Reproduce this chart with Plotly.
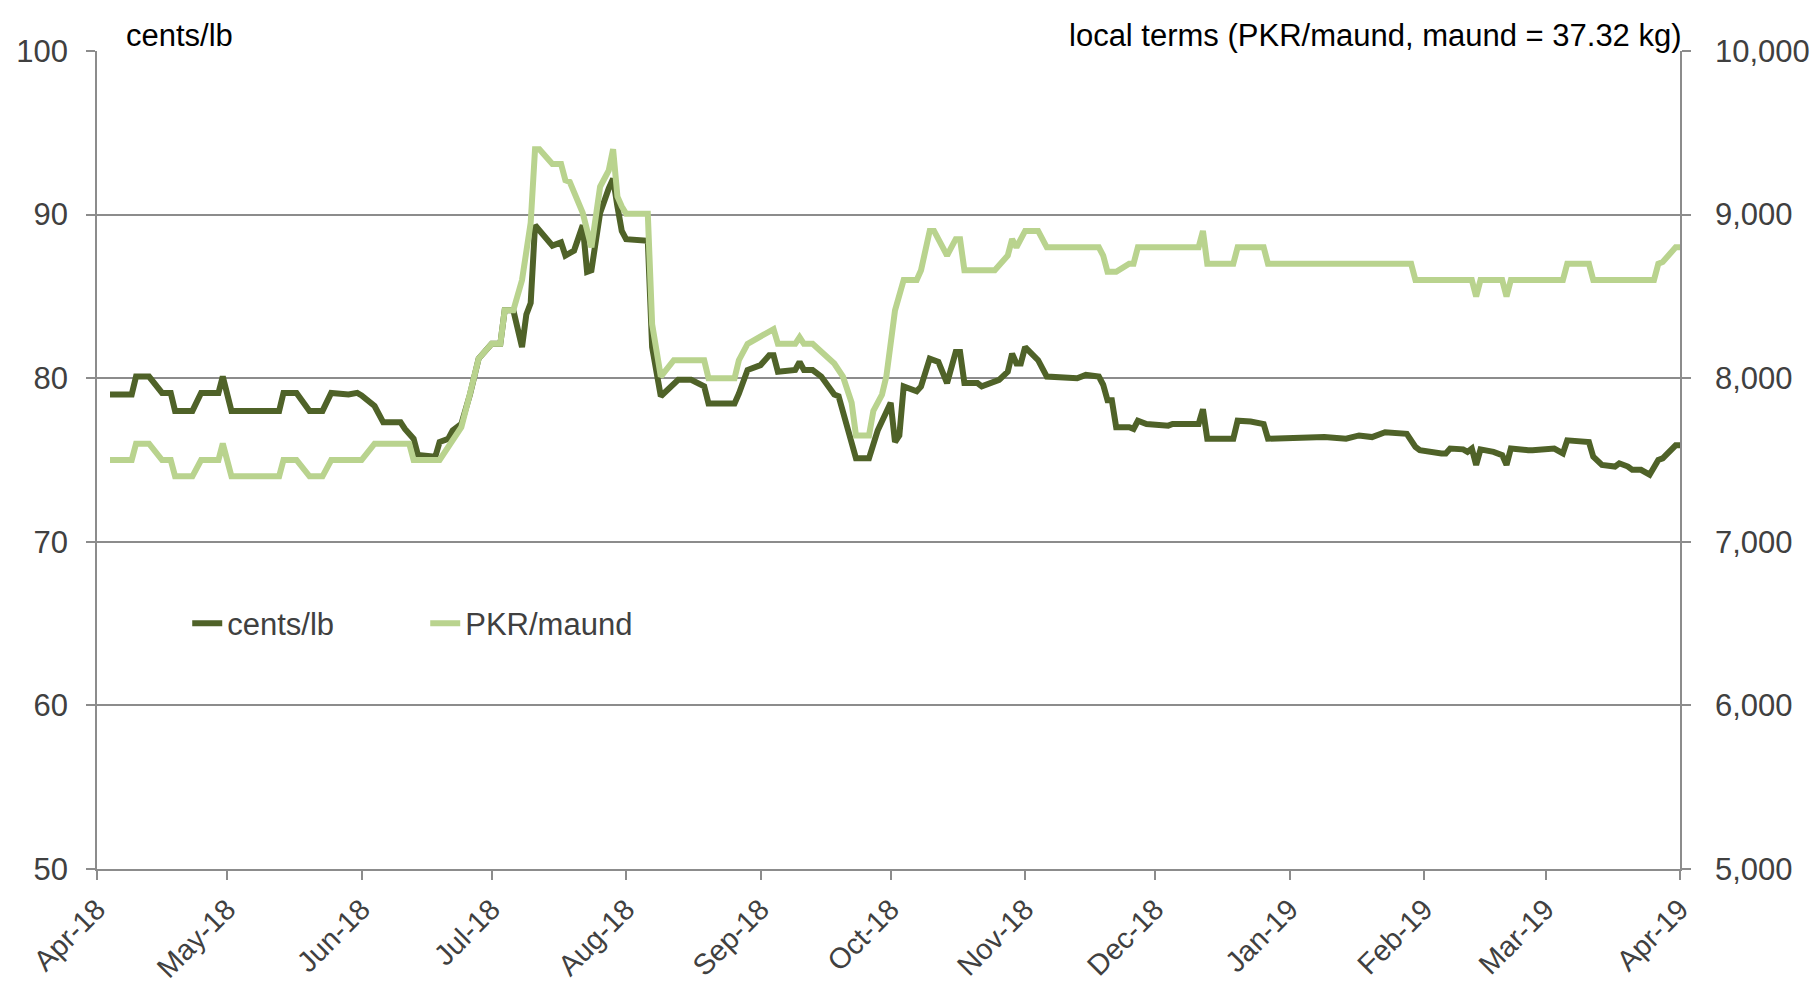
import plotly.graph_objects as go

# ---- data ----
cents_dates = [
    "2018-04-04", "2018-04-09", "2018-04-10", "2018-04-13", "2018-04-16", "2018-04-18", "2018-04-19",
    "2018-04-23", "2018-04-25", "2018-04-29", "2018-04-30", "2018-05-02", "2018-05-13", "2018-05-14",
    "2018-05-17", "2018-05-20", "2018-05-23", "2018-05-25", "2018-05-29", "2018-05-31", "2018-06-01",
    "2018-06-04", "2018-06-06", "2018-06-10", "2018-06-11", "2018-06-13", "2018-06-14", "2018-06-18",
    "2018-06-19", "2018-06-21", "2018-06-22", "2018-06-24", "2018-06-26", "2018-06-28", "2018-07-01",
    "2018-07-03", "2018-07-04", "2018-07-06", "2018-07-08", "2018-07-09", "2018-07-10", "2018-07-11",
    "2018-07-15", "2018-07-17", "2018-07-18", "2018-07-20", "2018-07-22", "2018-07-23", "2018-07-24",
    "2018-07-26", "2018-07-28", "2018-07-29", "2018-07-30", "2018-07-31", "2018-08-01", "2018-08-06",
    "2018-08-07", "2018-08-09", "2018-08-13", "2018-08-16", "2018-08-19", "2018-08-20", "2018-08-26",
    "2018-08-27", "2018-08-29", "2018-09-01", "2018-09-03", "2018-09-04", "2018-09-05", "2018-09-09",
    "2018-09-10", "2018-09-11", "2018-09-13", "2018-09-15", "2018-09-18", "2018-09-19", "2018-09-23",
    "2018-09-26", "2018-09-28", "2018-10-01", "2018-10-02", "2018-10-03", "2018-10-04", "2018-10-07",
    "2018-10-08", "2018-10-10", "2018-10-12", "2018-10-14", "2018-10-16", "2018-10-17", "2018-10-18",
    "2018-10-21", "2018-10-22", "2018-10-24", "2018-10-26", "2018-10-28", "2018-10-29", "2018-10-30",
    "2018-10-31", "2018-11-01", "2018-11-04", "2018-11-06", "2018-11-13", "2018-11-15", "2018-11-18",
    "2018-11-19", "2018-11-20", "2018-11-21", "2018-11-22", "2018-11-25", "2018-11-26", "2018-11-27",
    "2018-11-29", "2018-12-04", "2018-12-05", "2018-12-11", "2018-12-12", "2018-12-13", "2018-12-19",
    "2018-12-20", "2018-12-23", "2018-12-26", "2018-12-27", "2019-01-09", "2019-01-14", "2019-01-17",
    "2019-01-20", "2019-01-23", "2019-01-28", "2019-01-30", "2019-01-31", "2019-02-05", "2019-02-06",
    "2019-02-07", "2019-02-10", "2019-02-11", "2019-02-12", "2019-02-13", "2019-02-14", "2019-02-17",
    "2019-02-19", "2019-02-20", "2019-02-21", "2019-02-25", "2019-02-26", "2019-03-03", "2019-03-05",
    "2019-03-06", "2019-03-11", "2019-03-12", "2019-03-13", "2019-03-14", "2019-03-17", "2019-03-18",
    "2019-03-20", "2019-03-21", "2019-03-23", "2019-03-25", "2019-03-27", "2019-03-28", "2019-03-31",
    "2019-04-01",
]
cents_values = [
    79.0, 79.0, 80.1, 80.1, 79.1, 79.1, 78.0,
    78.0, 79.1, 79.1, 80.1, 78.0, 78.0, 79.1,
    79.1, 78.0, 78.0, 79.1, 79.0, 79.1, 78.95,
    78.3, 77.3, 77.3, 76.9, 76.3, 75.3, 75.2,
    76.1, 76.3, 76.8, 77.2, 79.0, 81.2, 82.1,
    82.1, 84.15, 84.15, 81.9, 83.9, 84.6, 89.35,
    88.1, 88.3, 87.5, 87.8, 89.35, 86.5, 86.6,
    90.1, 91.6, 92.2, 90.5, 89.0, 88.5, 88.4,
    81.9, 78.9, 79.9, 79.9, 79.5, 78.45, 78.45,
    79.05, 80.5, 80.8, 81.4, 81.4, 80.4, 80.5,
    81.0, 80.5, 80.5, 80.1, 79.0, 78.9, 75.1,
    75.1, 76.8, 78.5, 76.1, 76.5, 79.5, 79.2,
    79.5, 81.2, 81.0, 79.7, 81.6, 81.6, 79.7,
    79.7, 79.5, 79.7, 79.9, 80.4, 81.5, 80.9,
    80.9, 81.9, 81.1, 80.1, 80.0, 80.2, 80.1,
    79.6, 78.65, 78.65, 77.0, 77.0, 76.9, 77.4,
    77.2, 77.1, 77.2, 77.2, 78.1, 76.3, 76.3,
    77.4, 77.35, 77.2, 76.3, 76.4, 76.3, 76.5,
    76.4, 76.7, 76.6, 75.8, 75.6, 75.4, 75.4,
    75.7, 75.65, 75.5, 75.7, 74.7, 75.65, 75.5,
    75.3, 74.7, 75.7, 75.6, 75.6, 75.7, 75.4,
    76.2, 76.1, 75.2, 75.0, 74.7, 74.6, 74.8,
    74.6, 74.4, 74.4, 74.1, 75.0, 75.1, 75.9,
    75.9,
]

pkr_dates = [
    "2018-04-04", "2018-04-09", "2018-04-10", "2018-04-13", "2018-04-16", "2018-04-18", "2018-04-19",
    "2018-04-23", "2018-04-25", "2018-04-29", "2018-04-30", "2018-05-02", "2018-05-13", "2018-05-14",
    "2018-05-17", "2018-05-20", "2018-05-23", "2018-05-25", "2018-06-01", "2018-06-04", "2018-06-12",
    "2018-06-13", "2018-06-19", "2018-06-21", "2018-06-22", "2018-06-24", "2018-06-26", "2018-06-28",
    "2018-07-01", "2018-07-03", "2018-07-04", "2018-07-06", "2018-07-08", "2018-07-09", "2018-07-10",
    "2018-07-11", "2018-07-12", "2018-07-15", "2018-07-17", "2018-07-18", "2018-07-19", "2018-07-22",
    "2018-07-24", "2018-07-26", "2018-07-28", "2018-07-29", "2018-07-30", "2018-07-31", "2018-08-01",
    "2018-08-06", "2018-08-07", "2018-08-09", "2018-08-12", "2018-08-19", "2018-08-20", "2018-08-26",
    "2018-08-27", "2018-08-29", "2018-09-02", "2018-09-04", "2018-09-05", "2018-09-09", "2018-09-10",
    "2018-09-11", "2018-09-13", "2018-09-17", "2018-09-18", "2018-09-20", "2018-09-22", "2018-09-23",
    "2018-09-26", "2018-09-27", "2018-09-29", "2018-09-30", "2018-10-02", "2018-10-04", "2018-10-07",
    "2018-10-08", "2018-10-10", "2018-10-11", "2018-10-14", "2018-10-16", "2018-10-17", "2018-10-18",
    "2018-10-25", "2018-10-28", "2018-10-29", "2018-10-30", "2018-11-01", "2018-11-04", "2018-11-06",
    "2018-11-18", "2018-11-19", "2018-11-20", "2018-11-22", "2018-11-25", "2018-11-26", "2018-11-27",
    "2018-12-11", "2018-12-12", "2018-12-13", "2018-12-19", "2018-12-20", "2018-12-26", "2018-12-27",
    "2019-01-29", "2019-01-30", "2019-02-12", "2019-02-13", "2019-02-14", "2019-02-19", "2019-02-20",
    "2019-02-21", "2019-03-05", "2019-03-06", "2019-03-11", "2019-03-12", "2019-03-26", "2019-03-27",
    "2019-03-28", "2019-03-31", "2019-04-01",
]
pkr_values = [
    7500, 7500, 7600, 7600, 7500, 7500, 7400,
    7400, 7500, 7500, 7600, 7400, 7400, 7500,
    7500, 7400, 7400, 7500, 7500, 7600, 7600,
    7500, 7500, 7580, 7630, 7700, 7905, 8120,
    8210, 8210, 8415, 8415, 8600, 8800, 8950,
    9400, 9400, 9310, 9310, 9210, 9200, 9010,
    8800, 9170, 9270, 9400, 9110, 9050, 9005,
    9005, 8330, 8010, 8110, 8110, 8000, 8000,
    8110, 8210, 8270, 8300, 8210, 8210, 8250,
    8210, 8210, 8110, 8090, 8010, 7850, 7650,
    7650, 7800, 7900, 8010, 8415, 8600, 8600,
    8660, 8900, 8900, 8750, 8850, 8850, 8660,
    8660, 8750, 8850, 8800, 8900, 8900, 8800,
    8800, 8750, 8650, 8650, 8700, 8700, 8800,
    8800, 8900, 8700, 8700, 8800, 8800, 8700,
    8700, 8600, 8600, 8500, 8600, 8600, 8500,
    8600, 8600, 8700, 8700, 8600, 8600, 8700,
    8710, 8800, 8800,
]

month_ticks = ["2018-04-01", "2018-05-01", "2018-06-01", "2018-07-01", "2018-08-01", "2018-09-01",
               "2018-10-01", "2018-11-01", "2018-12-01", "2019-01-01", "2019-02-01", "2019-03-01",
               "2019-04-01"]
month_labels = ["Apr-18", "May-18", "Jun-18", "Jul-18", "Aug-18", "Sep-18", "Oct-18", "Nov-18",
                "Dec-18", "Jan-19", "Feb-19", "Mar-19", "Apr-19"]

left_ticks = [50, 60, 70, 80, 90, 100]
right_ticks = [5000, 6000, 7000, 8000, 9000, 10000]

DARK = "#4f6228"
LIGHT = "#b9d38e"
GRID = "#8c8c8c"
TXT = "#404040"
FONT = "Liberation Sans, Arial, sans-serif"

fig = go.Figure()
fig.add_trace(go.Scatter(x=pkr_dates, y=pkr_values, name="PKR/maund", mode="lines",
                         line=dict(color=LIGHT, width=6), yaxis="y2"))
fig.add_trace(go.Scatter(x=cents_dates, y=cents_values, name="cents/lb", mode="lines",
                         line=dict(color=DARK, width=6), yaxis="y"))

fig.update_layout(
    width=1810, height=979,
    margin=dict(l=89, r=138, t=43, b=118, autoexpand=False),
    paper_bgcolor="white", plot_bgcolor="white",
    font=dict(family=FONT, size=31, color=TXT),
    showlegend=True,
    legend=dict(orientation="h", x=0.057, y=0.30, xanchor="left", yanchor="middle",
                traceorder="reversed", bgcolor="rgba(0,0,0,0)",
                font=dict(size=31, color=TXT), entrywidth=193),
    xaxis=dict(type="date", range=["2018-04-01", "2019-04-01"], automargin=False,
               tickmode="array", tickvals=month_ticks, ticktext=month_labels,
               tickangle=-45, showgrid=False, showline=True, linecolor=GRID, linewidth=1.5,
               ticks="outside", ticklen=9, tickcolor=GRID, tickwidth=1.5,
               tickfont=dict(size=29, color=TXT), zeroline=False, ticklabelstandoff=1),
    yaxis=dict(range=[50, 100], tickmode="array", tickvals=left_ticks, automargin=False,
               showgrid=True, gridcolor=GRID, gridwidth=1.5,
               showline=True, linecolor=GRID, linewidth=1.5,
               ticks="outside", ticklen=9, tickcolor=GRID, tickwidth=1.5,
               tickfont=dict(size=31, color=TXT), zeroline=False, ticklabelstandoff=12),
    yaxis2=dict(range=[5000, 10000], overlaying="y", side="right", tickmode="array",
                tickvals=right_ticks, tickformat=",", showgrid=False, automargin=False,
                showline=True, linecolor=GRID, linewidth=1.5,
                ticks="outside", ticklen=9, tickcolor=GRID, tickwidth=1.5,
                tickfont=dict(size=31, color=TXT), zeroline=False, ticklabelstandoff=18),
    annotations=[
        dict(text="cents/lb", xref="paper", yref="paper", x=0.017, y=1.0,
             xanchor="left", yanchor="bottom", showarrow=False, yshift=-4,
             font=dict(size=31, color="black", family=FONT)),
        dict(text="local terms (PKR/maund, maund = 37.32 kg)", xref="paper", yref="paper",
             x=1.0, y=1.0, xanchor="right", yanchor="bottom", showarrow=False,
             xshift=4, yshift=-4,
             font=dict(size=31, color="black", family=FONT)),
    ],
)

fig.write_html("out.html")
